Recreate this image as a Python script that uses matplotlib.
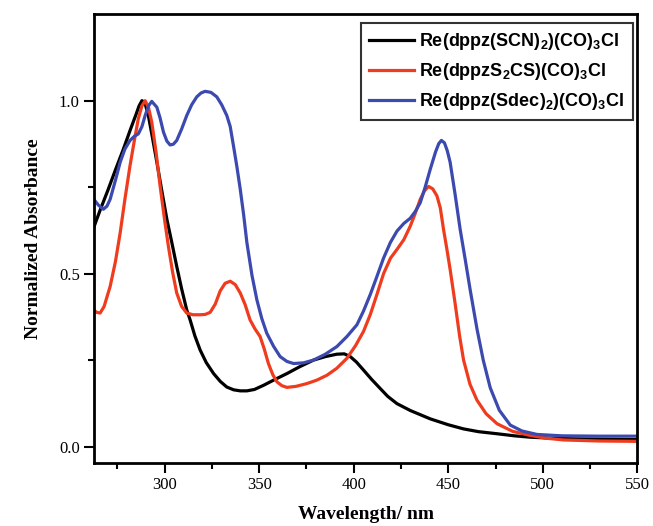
import matplotlib
matplotlib.use("Agg")
import matplotlib.pyplot as plt

# ---- data ----
wl_scn = [262.5, 266, 270, 274, 278, 282, 285, 286.5, 288, 289.5, 291.4, 293.5, 295.9, 298.5, 301.2,
          303.8, 306.4, 309, 311.7, 313.5, 316, 318.8, 322, 325.9, 329.5, 332.9, 336.5, 340,
          343.5, 347.5, 352.3, 358, 364.7, 371.5, 378.8, 385, 391.1, 395, 398.2, 401.5, 405.2,
          409.5, 414, 418, 422.9, 430, 440.5, 450, 458.1, 466, 475.8, 485, 493.4, 505, 520,
          535, 550]
ab_scn = [0.633, 0.685, 0.741, 0.800, 0.857, 0.918, 0.962, 0.985, 1.000, 0.995, 0.957, 0.895, 0.822,
          0.740, 0.657, 0.590, 0.521, 0.456, 0.395, 0.366, 0.320, 0.279, 0.243, 0.211, 0.188,
          0.172, 0.164, 0.161, 0.161, 0.165, 0.177, 0.193, 0.211, 0.231, 0.250, 0.260, 0.267,
          0.268, 0.260, 0.244, 0.221, 0.194, 0.168, 0.145, 0.124, 0.104, 0.080, 0.063, 0.051,
          0.043, 0.037, 0.031, 0.027, 0.024, 0.022, 0.021, 0.020]

wl_s2cs = [262.5, 264, 265.9, 268, 271.2, 274, 276.5, 279, 281.7, 284, 286.1, 288, 289.7, 291.5,
           293.2, 295.5, 297.6, 300, 302, 304.2, 306.4, 309, 311.7, 315, 318.8, 321.5, 324.1,
           326.8, 329.4, 332, 334.7, 337.4, 340, 342.6, 345.2, 347.8, 350.5, 352.7, 354.9, 357.2,
           359.4, 362, 364.7, 369.5, 375.2, 380.5, 385.8, 391, 396.4, 401, 405.2, 408.8, 412.3,
           415.8, 419.5, 422.9, 426.5, 429.9, 432.6, 435.2, 437.5, 439.6, 441.8, 444, 445.8,
           447.5, 449.3, 451, 453.6, 456, 458.1, 461.5, 465.2, 470, 475.8, 484, 493.4, 502, 511,
           530, 550]
ab_s2cs = [0.395, 0.388, 0.386, 0.405, 0.463, 0.535, 0.618, 0.715, 0.812, 0.885, 0.948, 0.985, 1.000,
           0.980, 0.938, 0.850, 0.754, 0.655, 0.579, 0.505, 0.444, 0.405, 0.386, 0.381, 0.381,
           0.382, 0.388, 0.412, 0.450, 0.472, 0.478, 0.468, 0.444, 0.410, 0.366, 0.340, 0.318,
           0.282, 0.240, 0.208, 0.187, 0.176, 0.171, 0.174, 0.182, 0.192, 0.206, 0.226, 0.255,
           0.292, 0.333, 0.382, 0.440, 0.500, 0.545, 0.570, 0.598, 0.637, 0.675, 0.715, 0.740,
           0.752, 0.745, 0.725, 0.690, 0.628, 0.570, 0.512, 0.415, 0.320, 0.250, 0.180, 0.134,
           0.095, 0.066, 0.044, 0.032, 0.024, 0.019, 0.016, 0.015]

wl_sdec = [262.5, 265, 267.6, 269.5, 271.2, 274, 276.5, 279, 281.7, 284, 286.1, 288, 289.7, 291.5,
           293.2, 295.9, 297.6, 299.4, 301.2, 302.9, 304.6, 306.4, 309, 311.7, 314.3, 317, 319.2,
           321.4, 324.5, 327.6, 330.2, 332.9, 334.7, 336.4, 338.2, 340, 341.8, 343.5, 346.2,
           348.8, 351.4, 354, 357.6, 361.1, 364.7, 368.2, 373.5, 378.8, 385, 391.1, 396.4,
           401.7, 405.2, 408.8, 412.3, 415.8, 419.4, 422.9, 426.5, 429.9, 432.6, 435.2, 437.8,
           440.5, 443.3, 445, 446.4, 448, 449.5, 451, 453.6, 456.3, 459, 461.6, 465.2, 468.5,
           472.2, 477, 482.8, 489, 496.9, 510, 530, 550]
ab_sdec = [0.715, 0.698, 0.686, 0.695, 0.715, 0.770, 0.822, 0.860, 0.885, 0.897, 0.904, 0.925, 0.957,
           0.985, 0.998, 0.981, 0.950, 0.909, 0.883, 0.872, 0.874, 0.885, 0.918, 0.957, 0.988,
           1.011, 1.022, 1.027, 1.024, 1.011, 0.988, 0.957, 0.925, 0.870, 0.810, 0.744, 0.670,
           0.590, 0.495, 0.424, 0.370, 0.328, 0.290, 0.260, 0.246, 0.240, 0.242, 0.250, 0.267,
           0.289, 0.318, 0.352, 0.392, 0.440, 0.492, 0.545, 0.590, 0.623, 0.645, 0.660, 0.680,
           0.705, 0.750, 0.802, 0.852, 0.876, 0.885, 0.878, 0.855, 0.822, 0.730, 0.628, 0.540,
           0.453, 0.340, 0.250, 0.170, 0.105, 0.062, 0.045, 0.035, 0.031, 0.030, 0.030]

labels = [r'Re(dppz(SCN)$_\mathbf{2}$)(CO)$_\mathbf{3}$Cl',
          r'Re(dppzS$_\mathbf{2}$CS)(CO)$_\mathbf{3}$Cl',
          r'Re(dppz(Sdec)$_\mathbf{2}$)(CO)$_\mathbf{3}$Cl']
colors = ['#000000', '#f03c1e', '#3c4ab0']

xticks = [300, 350, 400, 450, 500, 550]
yticks = [0.0, 0.5, 1.0]

plt.rcParams['mathtext.fontset'] = 'custom'
plt.rcParams['mathtext.rm'] = 'Liberation Sans:bold'
plt.rcParams['mathtext.bf'] = 'Liberation Sans:bold'
plt.rcParams['mathtext.it'] = 'Liberation Sans:bold'

fig = plt.figure(figsize=(6.53, 5.26), dpi=100)
ax = fig.add_axes([0.1435, 0.1195, 0.8325, 0.8535])

for wl, ab, lab, c in zip([wl_scn, wl_s2cs, wl_sdec], [ab_scn, ab_s2cs, ab_sdec], labels, colors):
    ax.plot(wl, ab, color=c, lw=2.3, label=lab, solid_joinstyle='round')

ax.set_xlim(262.5, 550)
ax.set_ylim(-0.048, 1.25)
ax.set_xticks(xticks)
ax.set_xticks([275, 325, 375, 425, 475, 525], minor=True)
ax.set_yticks(yticks)
ax.set_yticks([0.25, 0.75], minor=True)
ax.set_xticklabels([str(t) for t in xticks], fontfamily='Liberation Serif', fontsize=12)
ax.set_yticklabels(['0.0', '0.5', '1.0'], fontfamily='Liberation Serif', fontsize=12)
ax.tick_params(which='major', direction='out', length=7, width=1.5, pad=3)
ax.tick_params(which='minor', direction='out', length=4.5, width=1.5)
for sp in ax.spines.values():
    sp.set_linewidth(2.0)

ax.set_xlabel('Wavelength/ nm', fontfamily='Liberation Serif', fontweight='bold', fontsize=14,
              labelpad=9)
ax.set_ylabel('Normalized Absorbance', fontfamily='Liberation Serif', fontweight='bold',
              fontsize=14, labelpad=12)

leg = ax.legend(loc='upper right', bbox_to_anchor=(0.9915, 0.98), frameon=True, fancybox=False,
                edgecolor='black', handlelength=2.5, handletextpad=0.3, borderpad=0.45,
                labelspacing=0.5, borderaxespad=0.0,
                prop={'family': 'Liberation Sans', 'weight': 'bold', 'size': 13})
leg.get_frame().set_linewidth(1.5)

fig.savefig('out.png', dpi=100)
